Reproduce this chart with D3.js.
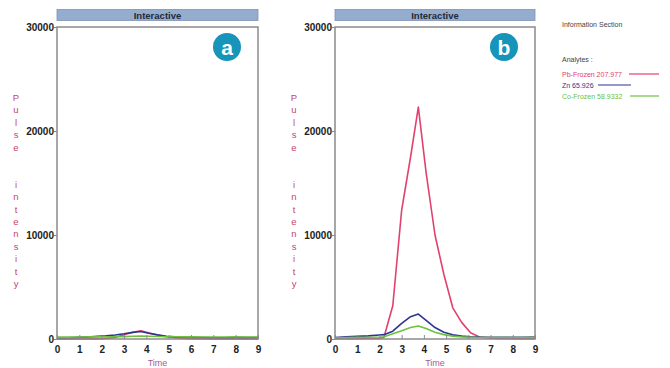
<!DOCTYPE html>
<html>
<head>
<meta charset="utf-8">
<script src="https://cdn.jsdelivr.net/npm/d3@7"></script>
<style>
  html, body { margin: 0; padding: 0; background: #fff; }
  svg { display: block; }
</style>
</head>
<body>
<svg id="chart" width="670" height="368"></svg>
<script>
// Sampling times (s) shared by all traces
const time = [0, 0.5, 1, 1.5, 2, 2.2, 2.6, 3.0, 3.4, 3.75, 4.1, 4.5, 4.9, 5.3, 5.7, 6.1, 6.5, 7, 7.5, 8, 8.5, 9];

// Panel a traces
const pbA = [0, 0, 0, 10, 30, 60, 150, 400, 650, 800, 600, 380, 220, 120, 60, 30, 20, 10, 10, 10, 10, 10];
const znA = [100, 120, 160, 200, 280, 300, 380, 500, 640, 720, 560, 400, 270, 200, 170, 150, 140, 120, 120, 150, 130, 140];
const coA = [180, 180, 190, 200, 200, 200, 210, 230, 260, 290, 260, 240, 220, 210, 200, 200, 190, 190, 190, 200, 190, 190];

// Panel b traces
const pbB = [20, 30, 40, 50, 60, 150, 3200, 12400, 17500, 22300, 16000, 10000, 6200, 3000, 1600, 600, 200, 80, 50, 40, 60, 40];
const znB = [150, 200, 250, 300, 380, 420, 750, 1500, 2150, 2400, 1800, 1100, 650, 400, 280, 220, 180, 170, 160, 170, 170, 180];
const coB = [100, 130, 160, 170, 190, 220, 500, 800, 1100, 1250, 1000, 650, 420, 280, 200, 170, 150, 140, 140, 150, 150, 160];

const xTicks = [0, 1, 2, 3, 4, 5, 6, 7, 8, 9];
const yTicks = [0, 10000, 20000, 30000];

const analytes = ["Pb-Frozen 207.977", "Zn 65.926", "Co-Frozen 58.9332"];
const colors = ["#e2416e", "#2c3592", "#6cc23e"];

const yTitle = "Pulse  intensity";

const svg = d3.select("#chart");

function panel(left, right, series, letter) {
  const top = 27, bottom = 339;
  const x = d3.scaleLinear().domain([0, 9]).range([left, right]);
  const y = d3.scaleLinear().domain([0, 30000]).range([bottom, top]);
  const g = svg.append("g");

  // Header bar
  g.append("rect")
    .attr("x", left).attr("y", 9.5).attr("width", right - left).attr("height", 11)
    .attr("fill", "#94acce").attr("stroke", "#7d93b5").attr("stroke-width", 0.8);
  g.append("text")
    .attr("x", (left + right) / 2).attr("y", 18.5)
    .attr("text-anchor", "middle")
    .attr("font-family", "Liberation Sans, Arial, sans-serif")
    .attr("font-weight", "bold").attr("font-size", 9.5)
    .attr("fill", "#1f2a3a")
    .text("Interactive");

  // Traces
  const line = d3.line().x((d, i) => x(time[i])).y(d => y(d));
  series.forEach((vals, k) => {
    g.append("path")
      .datum(vals)
      .attr("d", line)
      .attr("fill", "none")
      .attr("stroke", colors[k])
      .attr("stroke-width", 1.6)
      .attr("stroke-linejoin", "round");
  });

  // Frame
  g.append("rect")
    .attr("x", left).attr("y", top).attr("width", right - left).attr("height", bottom - top)
    .attr("fill", "none").attr("stroke", "#8b8b8b").attr("stroke-width", 1.5);

  // Axes
  const yAxis = g.append("g")
    .attr("transform", `translate(${left},0)`)
    .call(d3.axisLeft(y).tickValues(yTicks).tickSize(3).tickPadding(0).tickFormat(d3.format("d")));
  const xAxis = g.append("g")
    .attr("transform", `translate(0,${bottom})`)
    .call(d3.axisBottom(x).tickValues(xTicks).tickSize(-4).tickPadding(7).tickFormat(d3.format("d")));
  [yAxis, xAxis].forEach(a => {
    a.select(".domain").remove();
    a.selectAll("line").attr("stroke", "#8b8b8b");
    a.selectAll("text")
      .attr("font-family", "Liberation Sans, Arial, sans-serif")
      .attr("font-weight", "bold").attr("font-size", 10)
      .attr("fill", "#222");
  });

  // Axis titles
  g.append("text")
    .attr("x", (left + right) / 2).attr("y", 366)
    .attr("text-anchor", "middle")
    .attr("font-family", "Liberation Sans, Arial, sans-serif")
    .attr("font-size", 9).attr("fill", "#a45a9c")
    .text("Time");
  const yt = g.append("text")
    .attr("font-family", "Liberation Sans, Arial, sans-serif")
    .attr("font-size", 9.5).attr("fill", "#c4456f")
    .attr("text-anchor", "middle");
  yTitle.split("").forEach((ch, i) => {
    yt.append("tspan").attr("x", left - 41).attr("y", 101 + i * 12.4).text(ch === " " ? "\u00a0" : ch);
  });

  // Panel badge
  g.append("circle")
    .attr("cx", right - 31).attr("cy", 47).attr("r", 14)
    .attr("fill", "#1694b9");
  g.append("text")
    .attr("x", right - 31).attr("y", 54.5)
    .attr("text-anchor", "middle")
    .attr("font-family", "Liberation Sans, Arial, sans-serif")
    .attr("font-weight", "bold").attr("font-size", 21)
    .attr("fill", "#fff")
    .text(letter);
}

panel(57, 258, [pbA, znA, coA], "a");
panel(335, 535, [pbB, znB, coB], "b");

// Information section / legend
const info = svg.append("g")
  .attr("font-family", "Liberation Sans, Arial, sans-serif")
  .attr("font-size", 7);
info.append("text").attr("x", 562).attr("y", 27).attr("fill", "#444").text("Information Section");
info.append("text").attr("x", 562).attr("y", 62).attr("fill", "#444").text("Analytes :");
const legendRows = [
  { y: 74, x1: 629, x2: 659 },
  { y: 85, x1: 598, x2: 631 },
  { y: 96, x1: 630, x2: 659 }
];
analytes.forEach((name, i) => {
  const r = legendRows[i];
  info.append("text").attr("x", 562).attr("y", r.y + 2.5).attr("fill", colors[i]).text(name);
  info.append("line")
    .attr("x1", r.x1).attr("x2", r.x2).attr("y1", r.y).attr("y2", r.y)
    .attr("stroke", colors[i]).attr("stroke-width", 1.2);
});
</script>
</body>
</html>
